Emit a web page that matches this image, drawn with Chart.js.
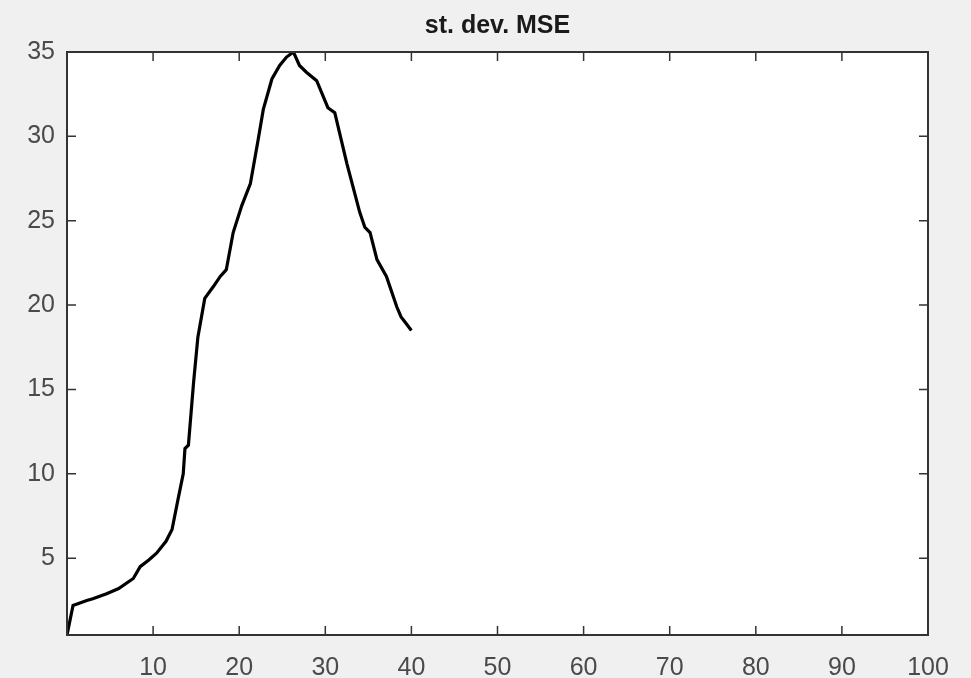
<!DOCTYPE html>
<html>
<head>
<meta charset="utf-8">
<script src="https://cdn.jsdelivr.net/npm/chart.js@4/dist/chart.umd.min.js"></script>
<style>
  body { margin: 0; background: #f0f0f0; }
  canvas { display: block; }
</style>
</head>
<body>
<canvas id="myChart" width="971" height="678"></canvas>
<script>
'use strict';

// chart data
let chartTitle = 'st. dev. MSE';
let xValues = [0, 0.7, 2.3, 3.0, 4.6, 6.0, 7.7, 8.5, 9.5, 10.4, 11.5, 12.2, 12.9, 13.5, 13.7, 14.1, 14.7, 15.2, 16.0, 17.0, 17.8, 18.5, 19.3, 20.3, 21.3, 22.2, 22.8, 23.8, 24.7, 25.5, 26.3, 27.0, 27.8, 29.0, 30.3, 31.1, 32.5, 34.0, 34.6, 35.2, 36.0, 37.1, 38.3, 38.8, 39.1, 40.0];
let yValues = [0.45, 2.2, 2.5, 2.6, 2.9, 3.2, 3.8, 4.5, 4.9, 5.3, 6.0, 6.7, 8.5, 10.0, 11.5, 11.7, 15.4, 18.1, 20.4, 21.1, 21.7, 22.1, 24.3, 25.9, 27.2, 29.8, 31.6, 33.4, 34.2, 34.7, 35.0, 34.2, 33.8, 33.3, 31.7, 31.4, 28.4, 25.5, 24.6, 24.3, 22.7, 21.7, 19.9, 19.3, 19.1, 18.5];
let xTicks = [10, 20, 30, 40, 50, 60, 70, 80, 90, 100];
let yTicks = [5, 10, 15, 20, 25, 30, 35];
let xMin = 0;
let xMax = 100;
let yMin = 0.45;
let yMax = 35;

let ctx = document.getElementById('myChart');

let points = [];
for (let i = 0; i < xValues.length; i++) {
  points.push({ x: xValues[i], y: yValues[i] });
}

// grey page, white axes box
let backgroundPlugin = {
  id: 'matlabBackground',
  beforeDraw(chart) {
    let c = chart.ctx;
    let area = chart.chartArea;
    c.save();
    c.fillStyle = '#f0f0f0';
    c.fillRect(0, 0, chart.width, chart.height);
    c.fillStyle = '#ffffff';
    c.fillRect(area.left, area.top, area.right - area.left, area.bottom - area.top);
    c.restore();
  }
};

// box outline and inward ticks on all four sides
let boxPlugin = {
  id: 'matlabBox',
  afterDraw(chart) {
    let c = chart.ctx;
    let area = chart.chartArea;
    let xs = chart.scales.x;
    let ys = chart.scales.y;
    let len = 9;
    c.save();
    c.strokeStyle = '#333333';
    c.lineWidth = 1.5;
    c.beginPath();
    xTicks.forEach(function (v) {
      let px = xs.getPixelForValue(v);
      c.moveTo(px, area.bottom);
      c.lineTo(px, area.bottom - len);
      c.moveTo(px, area.top);
      c.lineTo(px, area.top + len);
    });
    yTicks.forEach(function (v) {
      let py = ys.getPixelForValue(v);
      c.moveTo(area.left, py);
      c.lineTo(area.left + len, py);
      c.moveTo(area.right, py);
      c.lineTo(area.right - len, py);
    });
    c.stroke();
    c.lineWidth = 2;
    c.strokeRect(area.left, area.top, area.right - area.left, area.bottom - area.top);
    c.restore();
  }
};

function setTicks(list) {
  return function (scale) {
    scale.ticks = list.map(function (v) { return { value: v }; });
  };
}

let myChartObj = {
  type: 'line',
  data: {
    datasets: [{
      label: chartTitle,
      data: points,
      borderColor: '#000000',
      borderWidth: 3.2,
      pointRadius: 0,
      tension: 0,
      fill: false
    }]
  },
  options: {
    responsive: false,
    animation: false,
    layout: { padding: { left: 0, right: 43, top: 0, bottom: 0 } },
    plugins: {
      legend: { display: false },
      tooltip: { enabled: false },
      title: {
        display: true,
        fullSize: false,
        text: chartTitle,
        color: '#1a1a1a',
        font: { family: 'Liberation Sans', size: 25, weight: 'bold', lineHeight: 1.2 },
        padding: { top: 11, bottom: 11 }
      }
    },
    scales: {
      x: {
        type: 'linear',
        min: xMin,
        max: xMax,
        afterBuildTicks: setTicks(xTicks),
        afterFit(scale) { scale.height = 43; },
        grid: { display: false },
        border: { display: false },
        ticks: {
          color: '#4a4a4a',
          padding: 10,
          maxRotation: 0,
          font: { family: 'Liberation Sans', size: 25 }
        }
      },
      y: {
        type: 'linear',
        min: yMin,
        max: yMax,
        afterBuildTicks: setTicks(yTicks),
        afterFit(scale) { scale.width = 67; },
        grid: { display: false },
        border: { display: false },
        ticks: {
          color: '#4a4a4a',
          padding: 4,
          font: { family: 'Liberation Sans', size: 25 }
        }
      }
    }
  },
  plugins: [backgroundPlugin, boxPlugin]
};

new Chart(ctx, myChartObj);
</script>
</body>
</html>
